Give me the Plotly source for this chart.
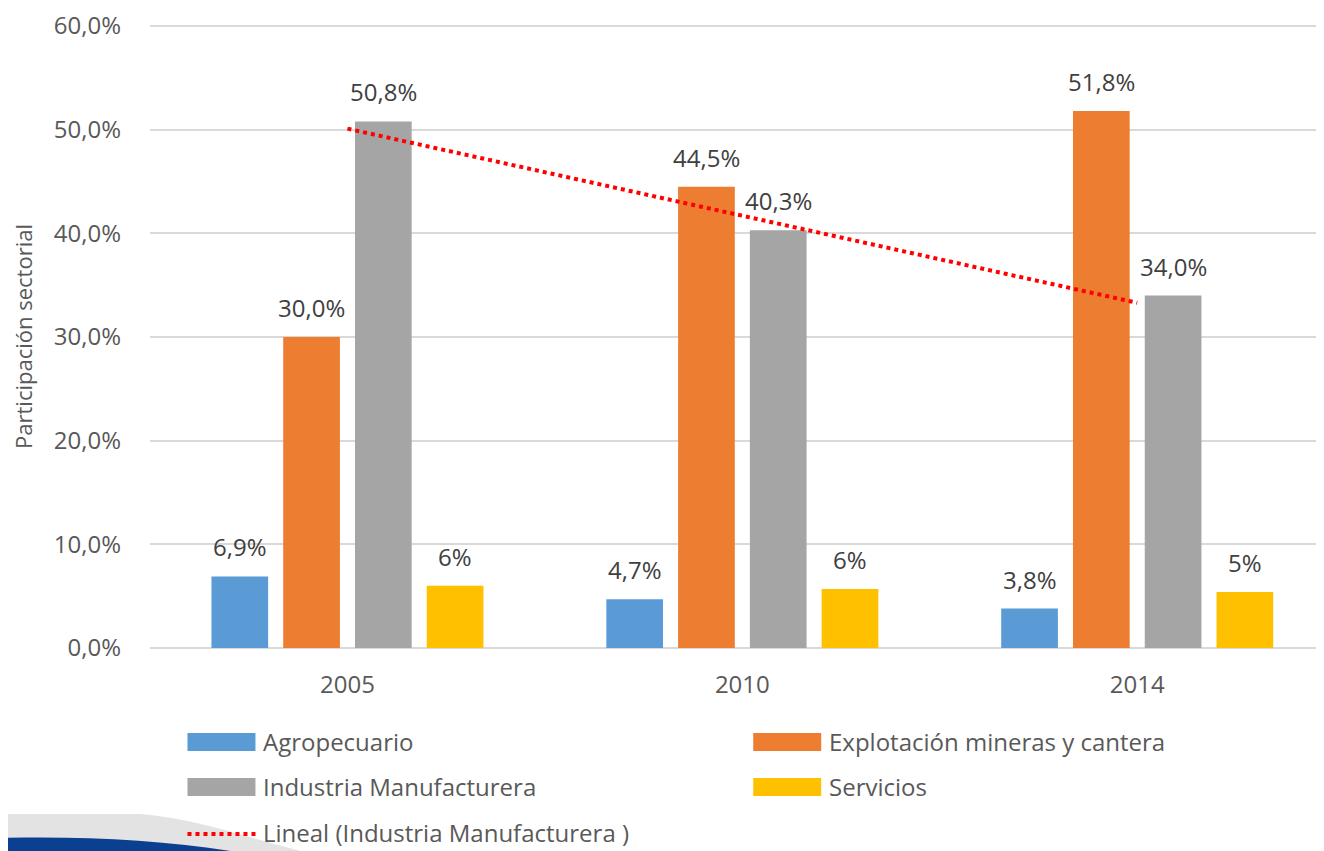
import numpy as np
import plotly.graph_objects as go

years = ["2005", "2010", "2014"]
series_names = ["Agropecuario", "Explotación mineras y cantera", "Industria Manufacturera", "Servicios"]
agropecuario = [6.9, 4.7, 3.8]
explotacion = [30.0, 44.5, 51.8]
industria = [50.8, 40.3, 34.0]
servicios = [6.0, 5.7, 5.4]
label_formats = [".1f", ".1f", ".1f", ".0f"]
y_ticks = [0, 10, 20, 30, 40, 50, 60]
colors = ["#5B9BD5", "#ED7D31", "#A5A5A5", "#FFC000"]
trend_name = "Lineal (Industria Manufacturera )"

FONT = "Open Sans"
OFF = 8  # page body margin
W, H = 1316, 843
YMAX = 60.1
ML, MB = 141.5, 203
TOP60 = 18  # figure px of the 60% gridline
MT = TOP60 - (YMAX - 60) * (H - TOP60 - MB) / 60
PW, PH = W - ML, H - MT - MB


def px(xs):  # screen px -> paper x
    return (xs - OFF - ML) / PW


def py(ys):  # screen px -> paper y
    return (H - MB - (ys - OFF)) / PH


def pct(v, fmt=".1f"):
    return format(v, fmt).replace(".", ",") + "%"


xs = np.arange(len(years))
values = [agropecuario, explotacion, industria, servicios]

fig = go.Figure()
for name, vals, col in zip(series_names, values, colors):
    fig.add_trace(go.Bar(x=xs, y=vals, name=name, marker=dict(color=col, line=dict(width=0))))

# linear trendline of Industria Manufacturera
slope, intercept = np.polyfit(xs + 1, industria, 1)
trend = slope * (xs + 1) + intercept
fig.add_trace(go.Scatter(x=xs, y=trend, mode="lines", name=trend_name,
                         line=dict(color="#FF0000", width=4, dash="dot")))

bargap = 0.273
slot = (1 - bargap) / len(series_names)
annotations = []
for i, (vals, fmt) in enumerate(zip(values, label_formats)):
    for k, v in enumerate(vals):
        annotations.append(dict(x=k + (i - 1.5) * slot, y=v, xref="x", yref="y", text=pct(v, fmt),
                                showarrow=False, yanchor="bottom", yshift=11,
                                font=dict(family=FONT, size=24, color="#404040")))

# manual legend (two columns, Excel-like swatches)
shapes = []
leg_cols = [187, 753]
leg_rows = [742, 787, 833]
for i, (name, col) in enumerate(zip(series_names, colors)):
    cx, cy = leg_cols[i % 2], leg_rows[i // 2]
    shapes.append(dict(type="rect", xref="paper", yref="paper",
                       x0=px(cx), x1=px(cx + 68), y0=py(cy + 9), y1=py(cy - 9),
                       fillcolor=col, line=dict(width=0)))
    annotations.append(dict(xref="paper", yref="paper", x=px(cx + 74), y=py(cy),
                            xanchor="left", yanchor="middle", showarrow=False, text=name,
                            font=dict(family=FONT, size=24, color="#595959")))
cx, cy = leg_cols[0], leg_rows[2]
shapes.append(dict(type="line", xref="paper", yref="paper", x0=px(cx), x1=px(cx + 70),
                   y0=py(cy + 1), y1=py(cy + 1), line=dict(color="#FF0000", width=4, dash="dot")))
annotations.append(dict(xref="paper", yref="paper", x=px(cx + 74), y=py(cy),
                        xanchor="left", yanchor="middle", showarrow=False, text=trend_name,
                        font=dict(family=FONT, size=24, color="#595959")))

# decorative swoosh at bottom-left (slide background)
shapes.append(dict(type="path", xref="paper", yref="paper", layer="below",
                   path=f"M {px(0)},{py(814)} L {px(140)},{py(814)} C {px(190)},{py(818)} {px(240)},{py(835)} {px(300)},{py(851)} L {px(0)},{py(851)} Z",
                   fillcolor="#DCDCDC", line=dict(width=0), opacity=0.8))
shapes.append(dict(type="path", xref="paper", yref="paper", layer="below",
                   path=f"M {px(0)},{py(838)} C {px(80)},{py(836)} {px(160)},{py(840)} {px(230)},{py(851)} L {px(0)},{py(851)} Z",
                   fillcolor="#0B3F8F", line=dict(width=0)))

fig.update_layout(
    width=W, height=H,
    margin=dict(l=ML, r=0, t=MT, b=MB),
    paper_bgcolor="white", plot_bgcolor="white",
    barmode="group", bargap=bargap, bargroupgap=0.21,
    font=dict(family=FONT, size=24, color="#595959"),
    showlegend=False,
    annotations=annotations,
    shapes=shapes,
)
fig.update_xaxes(range=[-0.5, 2.473], tickvals=list(xs), ticktext=years, showgrid=False,
                 showline=False, zeroline=False, ticks="", ticklabelstandoff=20, automargin=False,
                 tickfont=dict(size=24, color="#595959"))
fig.update_yaxes(range=[0, YMAX], tickvals=y_ticks, ticktext=[pct(t) for t in y_ticks],
                 showgrid=True, gridcolor="#D9D9D9", gridwidth=1.5, zeroline=True,
                 zerolinecolor="#D9D9D9", zerolinewidth=1.5, ticklabelstandoff=28,
                 ticklabeloverflow="allow", automargin=False,
                 tickfont=dict(size=24, color="#595959"),
                 title=dict(text="Participación sectorial", font=dict(size=22, color="#595959"), standoff=15))

fig.write_html("out.html")
